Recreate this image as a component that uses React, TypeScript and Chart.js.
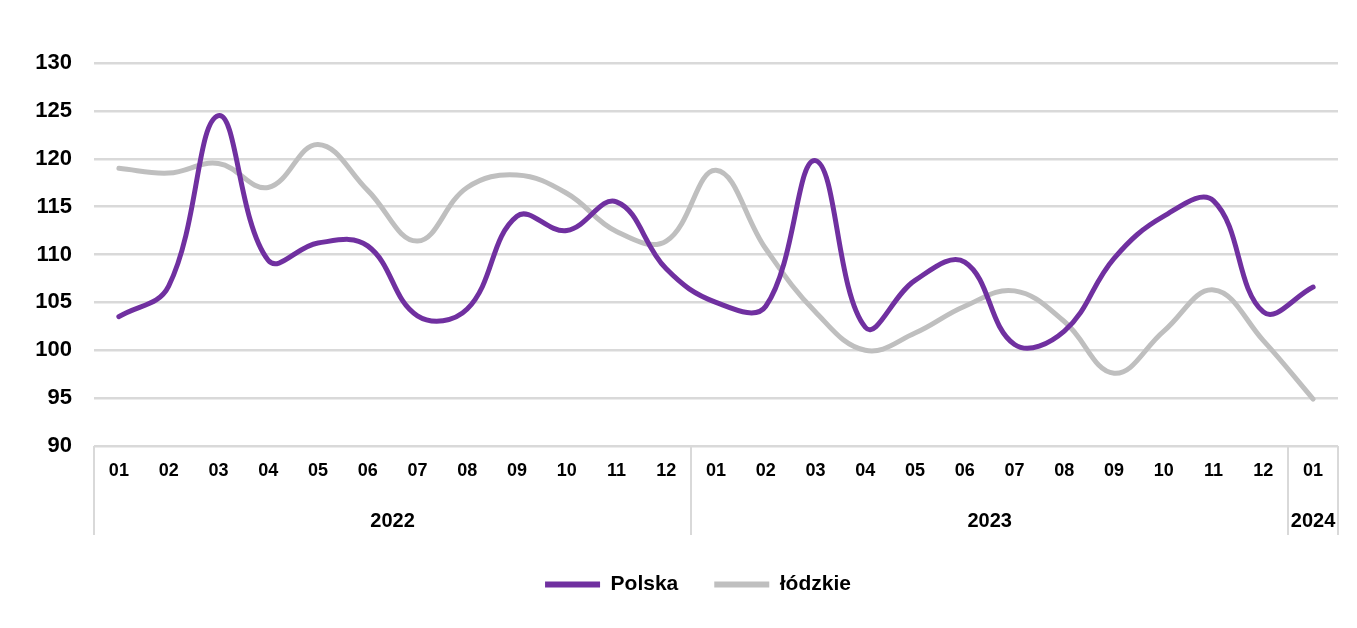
import React, { useEffect, useRef } from "react";
import { Chart, registerables } from "chart.js";

Chart.register(...registerables);

const months = [
  "01", "02", "03", "04", "05", "06", "07", "08", "09", "10", "11", "12",
  "01", "02", "03", "04", "05", "06", "07", "08", "09", "10", "11", "12",
  "01",
];
const yearGroups = [
  { label: "2022", from: 0, to: 11 },
  { label: "2023", from: 12, to: 23 },
  { label: "2024", from: 24, to: 24 },
];
const polska = [
  103.5, 106.7, 124.5, 109.4, 111.2, 110.9, 103.6, 104.3, 114.0, 112.5, 115.5, 108.5,
  105.0, 104.6, 119.8, 102.4, 107.3, 109.2, 100.6, 102.0, 109.6, 114.0, 115.6, 104.0,
  106.6,
];
const lodzkie = [
  119.0, 118.5, 119.5, 117.0, 121.5, 116.7, 111.4, 117.0, 118.3, 116.4, 112.4, 111.4,
  118.8, 110.6, 104.0, 100.0, 101.8, 104.6, 106.2, 103.0, 97.6, 102.0, 106.3, 101.0,
  94.9,
];
const yMin = 90;
const yMax = 130;
const yStep = 5;

const FONT = "'Liberation Sans', Arial, sans-serif";

const separatorPlugin = {
  id: "separators",
  afterLayout(chart: any) {
    if (chart.legend) {
      chart.legend.left += 29;
      chart.legend.right += 29;
    }
  },
  afterDraw(chart: any) {
    const { ctx, chartArea } = chart;
    const x = chart.scales.x;
    const half = (x.getPixelForValue(1) - x.getPixelForValue(0)) / 2;
    const bounds = [0, 12, 24, 25];
    ctx.save();
    ctx.strokeStyle = "#d9d9d9";
    ctx.lineWidth = 2;
    ctx.beginPath();
    ctx.moveTo(chartArea.left, chartArea.bottom);
    ctx.lineTo(chartArea.right, chartArea.bottom);
    bounds.forEach((b) => {
      const px = Math.round(x.getPixelForValue(b) - half);
      ctx.moveTo(px, chartArea.bottom);
      ctx.lineTo(px, chartArea.bottom + 89);
    });
    ctx.stroke();
    ctx.fillStyle = "#000";
    ctx.font = `bold 20px ${FONT}`;
    ctx.textAlign = "center";
    ctx.textBaseline = "middle";
    yearGroups.forEach((g) => {
      const cx = (x.getPixelForValue(g.from) + x.getPixelForValue(g.to)) / 2;
      ctx.fillText(g.label, cx, chartArea.bottom + 75);
    });
    ctx.restore();
  },
};

export default function App() {
  const ref = useRef<HTMLCanvasElement | null>(null);
  useEffect(() => {
    if (!ref.current) return;
    const chart = new Chart(ref.current, {
      type: "line",
      data: {
        labels: months,
        datasets: [
          {
            label: "Polska",
            data: polska,
            borderColor: "#7030A0",
            backgroundColor: "#7030A0",
            borderWidth: 5,
            pointRadius: 0,
            tension: 0.4,
            borderCapStyle: "round",
            fill: false,
          },
          {
            label: "łódzkie",
            data: lodzkie,
            borderColor: "#BFBFBF",
            backgroundColor: "#BFBFBF",
            borderWidth: 5,
            pointRadius: 0,
            tension: 0.4,
            borderCapStyle: "round",
            fill: false,
          },
        ],
      },
      options: {
        animation: false,
        responsive: true,
        maintainAspectRatio: false,
        layout: { padding: { left: 0, right: 19, top: 63, bottom: 23 } },
        scales: {
          x: {
            offset: true,
            grid: { display: false, drawTicks: false },
            border: { display: false },
            ticks: {
              color: "#000",
              font: { family: FONT, size: 18, weight: "bold" },
              padding: 14,
              maxRotation: 0,
              autoSkip: false,
            },
            afterFit: (s: any) => {
              s.height = 92;
            },
          },
          y: {
            min: yMin,
            max: yMax,
            grid: { color: "#d9d9d9", lineWidth: 2.5, drawTicks: false },
            border: { display: false },
            ticks: {
              stepSize: yStep,
              color: "#000",
              font: { family: FONT, size: 22, weight: "bold" },
              padding: 22,
            },
            afterFit: (s: any) => {
              s.width = 94;
            },
          },
        },
        plugins: {
          tooltip: { enabled: false },
          legend: {
            position: "bottom",
            labels: {
              color: "#000",
              font: { family: FONT, size: 21, weight: "bold" },
              boxWidth: 55,
              boxHeight: 6,
              padding: 36,
              generateLabels: (c: any) =>
                Chart.defaults.plugins.legend.labels
                  .generateLabels(c)
                  .map((l: any) => ({ ...l, lineWidth: 0 })),
            },
          },
        },
      },
      plugins: [separatorPlugin],
    });
    return () => chart.destroy();
  }, []);
  return (
    <div style={{ position: "fixed", left: 0, top: 0, width: 1357, height: 628, background: "#fff" }}>
      <canvas ref={ref} />
    </div>
  );
}
